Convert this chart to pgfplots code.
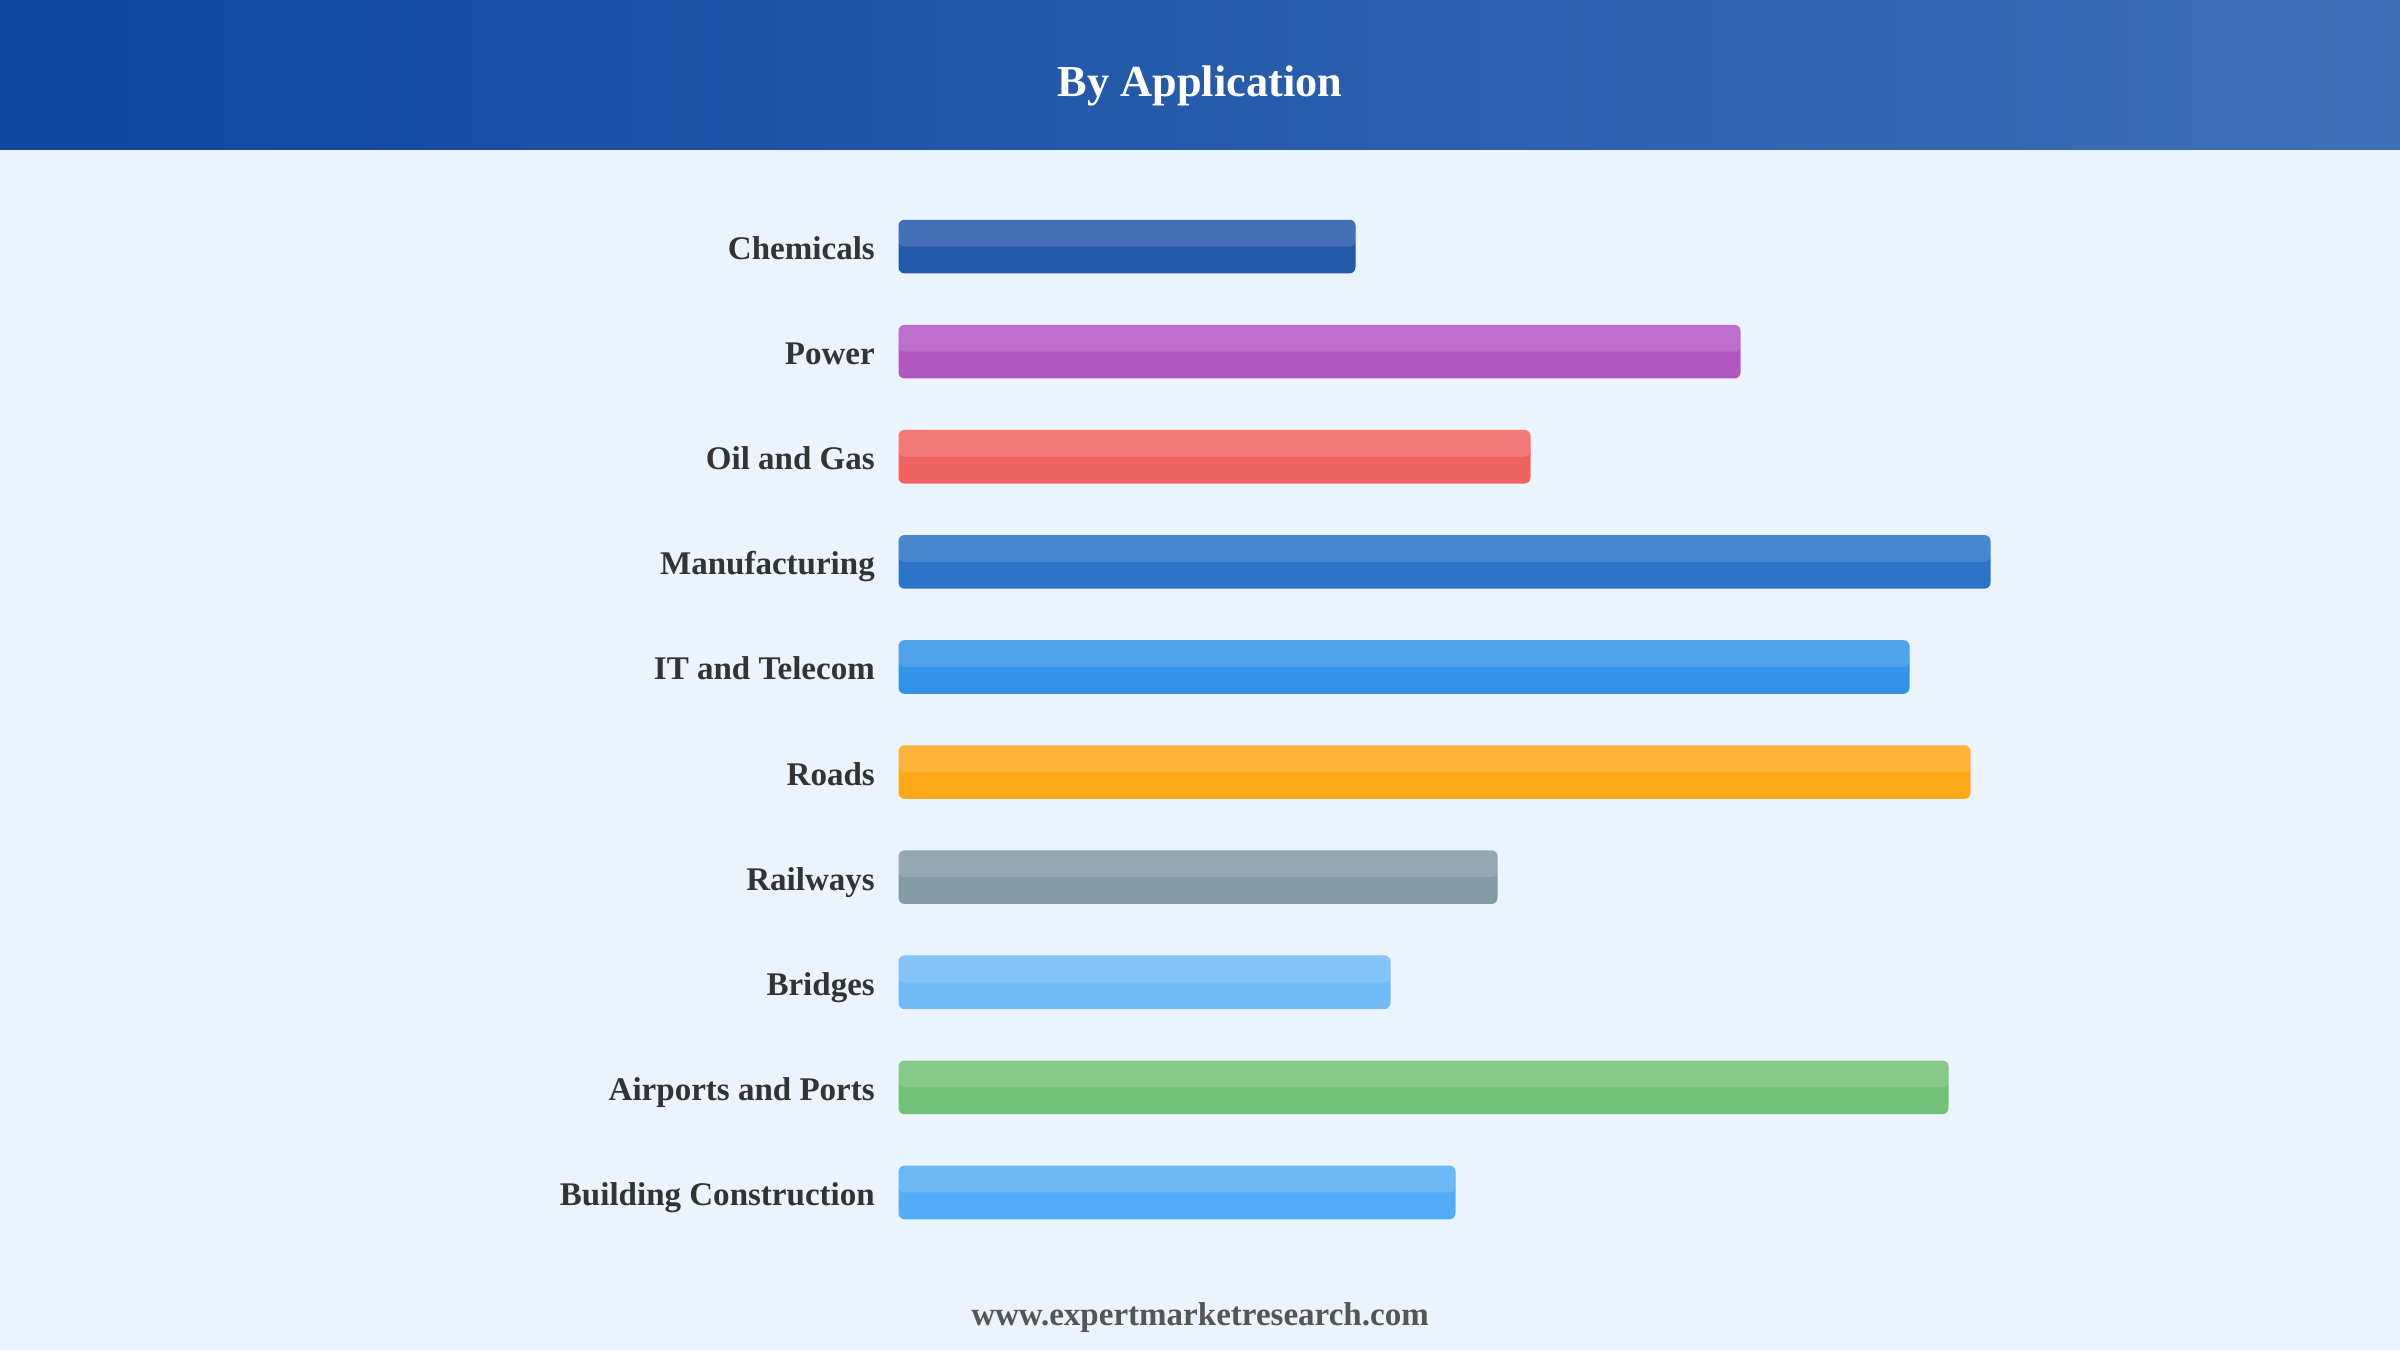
\documentclass[border=0pt]{standalone}
\usepackage{pgfplots}
\pgfplotsset{compat=1.18}
\usepackage{fontspec}
\setmainfont{Liberation Serif}
\definecolor{bg}{RGB}{235,243,252}
\definecolor{hdrL}{RGB}{14,70,160}
\definecolor{hdrR}{RGB}{62,110,182}
\definecolor{lbl}{RGB}{51,51,51}
\definecolor{foot}{RGB}{85,85,85}
\definecolor{cChem}{RGB}{35,88,170}
\definecolor{cPow}{RGB}{177,88,195}
\definecolor{cOil}{RGB}{239,99,97}
\definecolor{cMan}{RGB}{42,115,198}
\definecolor{cIT}{RGB}{51,147,232}
\definecolor{cRoad}{RGB}{253,168,25}
\definecolor{cRail}{RGB}{132,154,166}
\definecolor{cBri}{RGB}{113,187,247}
\definecolor{cAir}{RGB}{115,193,120}
\definecolor{cBld}{RGB}{83,173,246}
\pgfplotsset{
  mybar/.style={xbar, bar width=5.36mm, bar shift=0pt, draw=none, fill=#1, rounded corners=0.6mm},
  hl/.style={xbar, bar width=2.68mm, bar shift=1.34mm, draw=none, fill=white, fill opacity=0.14, rounded corners=0.6mm}
}
\begin{document}
\begin{tikzpicture}
\fill[bg] (0,0) rectangle (240mm,135mm);
\shade[left color=hdrL, right color=hdrR] (0,120mm) rectangle (240mm,135mm);
\node[anchor=base, text=white, font=\fontsize{12.6}{15}\selectfont\bfseries] at (120mm,125.3mm) {By Application};
\node[anchor=base, text=foot, font=\fontsize{9.4}{11}\selectfont\bfseries] at (120mm,2.43mm) {www.expertmarketresearch.com};
\begin{axis}[
  at={(89.85mm,10.5mm)}, anchor=south west,
  scale only axis, width=120mm, height=105.1mm,
  xmin=0, xmax=1200, ymin=-0.5, ymax=9.5, y dir=reverse,
  clip=false,
  axis line style={draw=none}, tick style={draw=none},
  xtick=\empty,
  ytick={0,...,9},
  yticklabels={Chemicals,Power,Oil and Gas,Manufacturing,IT and Telecom,Roads,Railways,Bridges,Airports and Ports,Building Construction},
  yticklabel style={anchor=base east, inner sep=0pt, xshift=-2.3mm, yshift=-1.3mm, text=lbl, font=\fontsize{9.4}{11}\selectfont\bfseries},
]
\addplot[mybar=cChem] coordinates {(457,0)};
\addplot[hl] coordinates {(457,0)};
\addplot[mybar=cPow] coordinates {(842,1)};
\addplot[hl] coordinates {(842,1)};
\addplot[mybar=cOil] coordinates {(632,2)};
\addplot[hl] coordinates {(632,2)};
\addplot[mybar=cMan] coordinates {(1092,3)};
\addplot[hl] coordinates {(1092,3)};
\addplot[mybar=cIT] coordinates {(1011,4)};
\addplot[hl] coordinates {(1011,4)};
\addplot[mybar=cRoad] coordinates {(1072,5)};
\addplot[hl] coordinates {(1072,5)};
\addplot[mybar=cRail] coordinates {(599,6)};
\addplot[hl] coordinates {(599,6)};
\addplot[mybar=cBri] coordinates {(492,7)};
\addplot[hl] coordinates {(492,7)};
\addplot[mybar=cAir] coordinates {(1050,8)};
\addplot[hl] coordinates {(1050,8)};
\addplot[mybar=cBld] coordinates {(557,9)};
\addplot[hl] coordinates {(557,9)};
\end{axis}
\end{tikzpicture}
\end{document}
